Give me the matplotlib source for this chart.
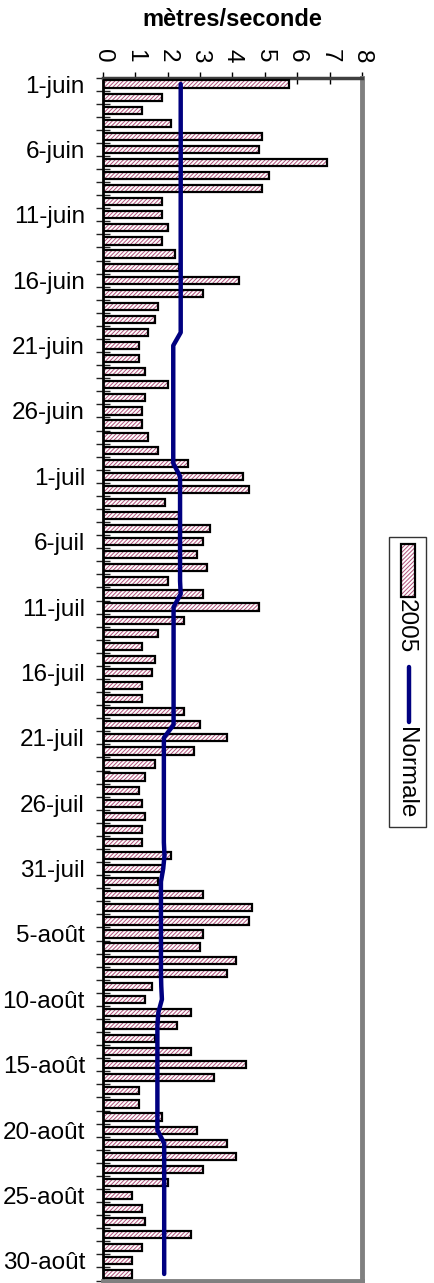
import matplotlib
matplotlib.use("Agg")
import matplotlib.pyplot as plt
from matplotlib.patches import Rectangle
from matplotlib.lines import Line2D

plt.rcParams['font.family'] = ['Liberation Sans', 'DejaVu Sans']
plt.rcParams['hatch.linewidth'] = 0.7

# jours du 1er juin au 31 août
mois = [("juin", 30), ("juil", 31), ("août", 31)]
jours = [f"{d}-{m}" for m, n in mois for d in range(1, n + 1)]

# vitesse du vent 2005 (m/s)
vent_2005 = [
    5.73, 1.81, 1.22, 2.11, 4.92, 4.82, 6.92, 5.12, 4.92, 1.81,
    1.81, 2.02, 1.81, 2.21, 2.34, 4.21, 3.10, 1.71, 1.61, 1.40,
    1.11, 1.11, 1.31, 2.01, 1.31, 1.20, 1.20, 1.40, 1.71, 2.62,
    4.32, 4.50, 1.91, 2.34, 3.31, 3.10, 2.91, 3.21, 2.01, 3.10,
    4.81, 2.50, 1.71, 1.20, 1.61, 1.50, 1.20, 1.20, 2.50, 3.01,
    3.82, 2.81, 1.61, 1.31, 1.11, 1.20, 1.31, 1.20, 1.20, 2.11,
    1.84, 1.70, 3.10, 4.61, 4.50, 3.10, 3.01, 4.11, 3.82, 1.50,
    1.31, 2.71, 2.30, 1.61, 2.71, 4.42, 3.42, 1.11, 1.11, 1.81,
    2.91, 3.82, 4.11, 3.10, 2.01, 0.91, 1.20, 1.31, 2.71, 1.20,
    0.91, 0.91,
]

# normale par décade (m/s)
normale = [
    2.40, 2.40, 2.40, 2.40, 2.40, 2.40, 2.40, 2.40, 2.40, 2.40,
    2.40, 2.40, 2.40, 2.40, 2.40, 2.40, 2.40, 2.40, 2.40, 2.40,
    2.17, 2.17, 2.17, 2.17, 2.17, 2.17, 2.17, 2.17, 2.17, 2.17,
    2.38, 2.38, 2.38, 2.38, 2.38, 2.38, 2.38, 2.38, 2.38, 2.40,
    2.18, 2.18, 2.18, 2.18, 2.18, 2.18, 2.18, 2.18, 2.18, 2.18,
    1.88, 1.88, 1.88, 1.88, 1.88, 1.88, 1.88, 1.88, 1.88, 1.90,
    1.86, 1.79, 1.79, 1.79, 1.79, 1.79, 1.79, 1.79, 1.79, 1.80,
    1.82, 1.71, 1.68, 1.68, 1.68, 1.68, 1.68, 1.68, 1.68, 1.68,
    1.68, 1.89, 1.89, 1.89, 1.89, 1.89, 1.89, 1.89, 1.89, 1.89,
    1.89, 1.89,
]

W, H = 435, 1283
fig = plt.figure(figsize=(W / 100, H / 100), dpi=100)


def fx(x):
    return x / W


def fy(y):
    return 1 - y / H


left, right, top, bottom = 103, 362, 77.5, 1280.5
ax = fig.add_axes([fx(left), fy(bottom), fx(right) - fx(left), fy(top) - fy(bottom)])

pos = list(range(len(jours)))
ax.barh(pos, vent_2005, height=0.55, color="white", edgecolor="#b0507a",
        hatch="////////", linewidth=0, zorder=2)
ax.barh(pos, vent_2005, height=0.55, fill=False, edgecolor="black",
        linewidth=1.6, zorder=3)
ax.plot(normale, pos, color="#000080", lw=3.2, solid_capstyle="round",
        solid_joinstyle="round", zorder=4)

ax.set_xlim(0, 8)
ax.set_ylim(len(jours) - 0.5, -0.5)

ax.xaxis.tick_top()
ax.set_xticks(range(0, 9))
ax.tick_params(axis="x", direction="inout", length=9, width=1, pad=6,
               labelsize=17.5, labelrotation=-90)

ax.set_yticks(pos[::5])
ax.set_yticklabels(jours[::5])
ax.set_yticks([p - 0.5 for p in pos] + [len(jours) - 0.5], minor=True)
ax.tick_params(axis="y", which="major", length=0, pad=13, labelsize=17.5)
ax.tick_params(axis="y", which="minor", direction="inout", length=10,
               width=1, color="#222222")

ax.spines["left"].set_color("black")
ax.spines["left"].set_linewidth(2)
ax.spines["top"].set_color("#404040")
ax.spines["top"].set_linewidth(2.5)
ax.spines["right"].set_color("#808080")
ax.spines["right"].set_linewidth(3.5)
ax.spines["bottom"].set_color("#808080")
ax.spines["bottom"].set_linewidth(3.5)

fig.text(fx(232), fy(20), "mètres/seconde", ha="center", va="center",
         fontsize=17, fontweight="bold")

# légende verticale
fig.add_artist(Rectangle((fx(389), fy(827)), fx(426) - fx(389), fy(537) - fy(827),
                         transform=fig.transFigure, fill=False,
                         edgecolor="#333333", lw=1))
fig.add_artist(Rectangle((fx(401), fy(597)), fx(415) - fx(401), fy(544) - fy(597),
                         transform=fig.transFigure, facecolor="white",
                         edgecolor="#b0507a", hatch="////////", lw=0))
fig.add_artist(Rectangle((fx(401), fy(597)), fx(415) - fx(401), fy(544) - fy(597),
                         transform=fig.transFigure, fill=False,
                         edgecolor="black", lw=1.6))
fig.text(fx(406), fy(599), "2005", rotation=-90, ha="center", va="top",
         fontsize=17.5)
fig.add_artist(Line2D([fx(409), fx(409)], [fy(667), fy(722)],
                      transform=fig.transFigure, color="#000080", lw=3.2,
                      solid_capstyle="round"))
fig.text(fx(406), fy(727), "Normale", rotation=-90, ha="center", va="top",
         fontsize=17.5)

fig.savefig("out.png", dpi=100)
